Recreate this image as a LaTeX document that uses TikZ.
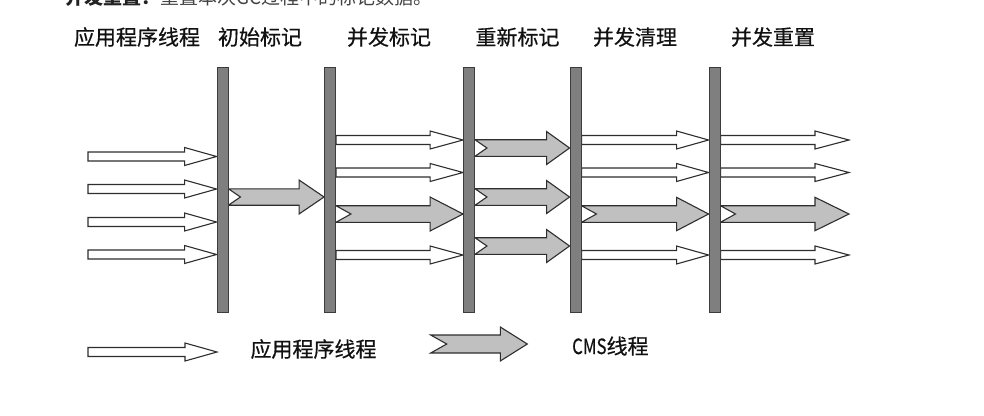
\documentclass[tikz,border=0pt]{standalone}
\usepackage{fontspec}
\newfontfamily\cjk{Noto Sans CJK SC}
\newfontfamily\cjkh{Noto Sans CJK SC}[FakeBold=0.5]
\usetikzlibrary{calc}
\definecolor{barfill}{HTML}{7F7F7F}
\definecolor{barline}{HTML}{3C3C3C}
\definecolor{cmsfill}{HTML}{C0C0C0}
\definecolor{arrline}{HTML}{2E2E2E}
\definecolor{txt}{HTML}{111111}
\tikzset{
  barbox/.style={draw=barline, fill=barfill, line width=0.9pt, minimum width=11pt, minimum height=245pt, inner sep=0pt},
  appa/.style={draw=arrline, fill=white, line width=1.1pt, line join=miter},
  cmsa/.style={draw=arrline, fill=cmsfill, line width=1.1pt, line join=miter},
  hdr/.style={font=\cjkh\fontsize{21}{24}\selectfont, text=txt, inner sep=0pt},
}
% white application-thread arrow: [head length]{from}{to}{y}
\newcommand\apparrow[4][32]{%
  \draw[appa] let \p1=(#2), \p2=(#3), \p3=(0,#4) in
   (\x1,\y3+4.5pt) -- (\x2-#1pt,\y3+4.5pt) -- (\x2-#1pt,\y3+9pt) -- (\x2,\y3)
   -- (\x2-#1pt,\y3-9pt) -- (\x2-#1pt,\y3-4.5pt) -- (\x1,\y3-4.5pt) -- cycle;}
% grey CMS-thread arrow: {from}{to}{y}{head length}{notch}{shaft half}{head half}
\newcommand\cmsarrow[7]{%
  \draw[cmsa] let \p1=(#1), \p2=(#2), \p3=(0,#3) in
   (\x1,\y3+#6pt) -- (\x2-#4pt,\y3+#6pt) -- (\x2-#4pt,\y3+#7pt) -- (\x2,\y3)
   -- (\x2-#4pt,\y3-#7pt) -- (\x2-#4pt,\y3-#6pt) -- (\x1,\y3-#6pt) -- (\x1+#5pt,\y3) -- cycle;}
\begin{document}
\begin{tikzpicture}[x=1pt,y=-1pt]
\useasboundingbox (0,0) rectangle (984,415);
\clip (0,0) rectangle (984,415);
% text line cut off at the top edge, as in the reference
\node[anchor=base west, inner sep=0pt, font=\cjk\fontsize{19}{22}\selectfont] (toptext) at (65,5)
  {\textcolor[HTML]{222222}{\bfseries 并发重置：}\textcolor[HTML]{444444}{重置本次GC过程中的标记数据。}};
% headers
\node[hdr] (h0) at (137,37) {应用程序线程};
\node[hdr] (h1) at (260,37) {初始标记};
\node[hdr] (h2) at (389,37) {并发标记};
\node[hdr] (h3) at (517.5,37) {重新标记};
\node[hdr] (h4) at (635,37) {并发清理};
\node[hdr] (h5) at (773,37) {并发重置};
% bars (phase boundaries)
\path node[barbox] (b1) at (222.5,189.5) {}
      node[barbox] (b2) at (330,189.5) {}
      node[barbox] (b3) at (469,189.5) {}
      node[barbox] (b4) at (575.5,189.5) {}
      node[barbox] (b5) at (714.5,189.5) {};
\coordinate (start) at (88,0);
\coordinate (finish) at (849,0);
% left: application threads
\apparrow{start}{b1.west}{156.5}
\apparrow{start}{b1.west}{189}
\apparrow{start}{b1.west}{222}
\apparrow{start}{b1.west}{254.5}
% initial mark
\cmsarrow{b1.east}{b2.west}{197}{25}{12}{8.2}{17}
% concurrent mark
\apparrow[33]{b2.east}{b3.west}{140}
\apparrow[33]{b2.east}{b3.west}{172.5}
\cmsarrow{b2.east}{b3.west}{214}{33}{15}{8.3}{17}
\apparrow[33]{b2.east}{b3.west}{255}
% remark
\cmsarrow{b3.east}{b4.west}{148}{23}{12}{8.3}{16.5}
\cmsarrow{b3.east}{b4.west}{197}{23}{12}{8.3}{16.5}
\cmsarrow{b3.east}{b4.west}{246}{23}{12}{8.3}{16.5}
% concurrent sweep
\apparrow{b4.east}{b5.west}{140}
\apparrow{b4.east}{b5.west}{172.5}
\cmsarrow{b4.east}{b5.west}{214}{32}{15}{8.3}{16.7}
\apparrow{b4.east}{b5.west}{255}
% concurrent reset
\apparrow[34]{b5.east}{finish}{140}
\apparrow[34]{b5.east}{finish}{172.5}
\cmsarrow{b5.east}{finish}{214}{34}{15}{8.3}{16.7}
\apparrow[34]{b5.east}{finish}{255}
% redraw bars on top
\path node[barbox] at (b1) {} node[barbox] at (b2) {} node[barbox] at (b3) {}
      node[barbox] at (b4) {} node[barbox] at (b5) {};
% legend
\coordinate (lw1) at (88,0);
\coordinate (lw2) at (217,0);
\apparrow{lw1}{lw2}{352}
\node[hdr] (legapp) at (313.5,349) {应用程序线程};
\coordinate (lg1) at (430.7,0);
\coordinate (lg2) at (527.3,0);
\cmsarrow{lg1}{lg2}{344}{27}{16}{9}{17}
\node[hdr, anchor=west] (legcms) at (572,346) {\scalebox{0.8}[1]{CMS}线程};
\end{tikzpicture}
\end{document}
